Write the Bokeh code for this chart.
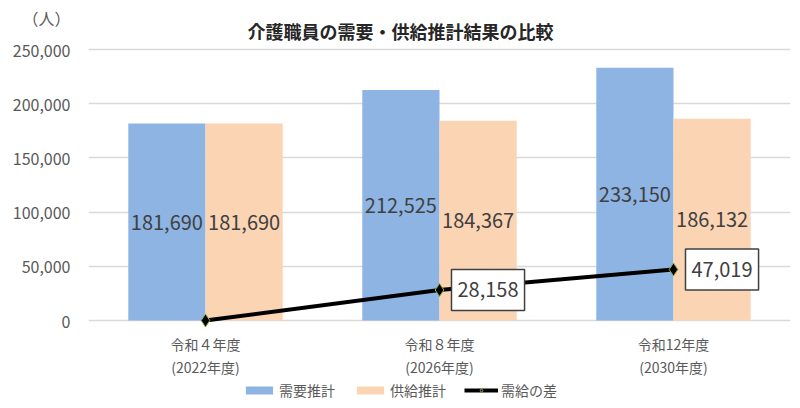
from bokeh.plotting import figure
from bokeh.models import (ColumnDataSource, FactorRange, Range1d, FixedTicker, NumeralTickFormatter,
                          Label, Legend, LegendItem)
from bokeh.core.properties import value
from bokeh.transform import dodge
from bokeh.embed import file_html
from bokeh.resources import INLINE

# ---- data ----
categories = ["令和４年度\n(2022年度)", "令和８年度\n(2026年度)", "令和12年度\n(2030年度)"]
demand = [181690, 212525, 233150]
supply = [181690, 184367, 186132]
gap = [0, 28158, 47019]
y_ticks = [0, 50000, 100000, 150000, 200000, 250000]
y_max = 250000

title_text = "介護職員の需要・供給推計結果の比較"
unit_text = "（人）"
series_names = ["需要推計", "供給推計", "需給の差"]

FONT = "Noto Sans CJK JP"
BLUE = "#8EB4E3"
PEACH = "#FBD4B4"

# layout (pixels): canvas 408 tall; value 0 sits at pixel 320, y_max at pixel 49
H = 408
ZERO_PX = 320
AREA_H = 271
px_per_unit = AREA_H / y_max


def px_to_val(px):
    return (ZERO_PX - px) / px_per_unit


y_top = px_to_val(0)
y_bottom = px_to_val(H)
unit_tick = int(round(px_to_val(18), -2))

line1 = [c.split("\n")[0] for c in categories]
line2 = [c.split("\n")[1] for c in categories]

src = ColumnDataSource(dict(
    cat=categories,
    demand=demand,
    supply=supply,
    demand_mid=[v / 2 for v in demand],
    supply_mid=[v / 2 for v in supply],
    demand_lbl=[f"{v:,}" for v in demand],
    supply_lbl=[f"{v:,}" for v in supply],
    gap=gap,
    line1=line1,
    line2=line2,
    y1=[px_to_val(343)] * len(categories),
    y2=[px_to_val(366)] * len(categories),
))

p = figure(width=800, height=H, x_range=FactorRange(*categories, range_padding=0),
           y_range=Range1d(y_bottom, y_top), output_backend="svg", toolbar_location=None,
           min_border_left=88, min_border_right=10, min_border_top=0, min_border_bottom=0)
p.outline_line_color = None
p.x_range.range_padding = 0

bw = 0.33
r1 = p.vbar(x=dodge("cat", -bw / 2, range=p.x_range), top="demand", width=bw, source=src,
            fill_color=BLUE, line_color=None)
r2 = p.vbar(x=dodge("cat", bw / 2, range=p.x_range), top="supply", width=bw, source=src,
            fill_color=PEACH, line_color=None)

p.text(x=dodge("cat", -bw / 2, range=p.x_range), y="demand_mid", text="demand_lbl", source=src,
       text_align="center", text_baseline="middle", text_font_size="20px",
       text_color="#404040", text_font=value(FONT))
p.text(x=dodge("cat", bw / 2, range=p.x_range), y="supply_mid", text="supply_lbl", source=src,
       text_align="center", text_baseline="middle", text_font_size="20px",
       text_color="#404040", text_font=value(FONT))

r3 = p.line(x="cat", y="gap", source=src, line_color="black", line_width=4)
r4 = p.scatter(x="cat", y="gap", source=src, marker="diamond", size=13,
               fill_color="black", line_color="#8DB04A", line_width=1)

for i, g in enumerate(gap):
    if g > 0:
        p.add_layout(Label(x=i + 0.5, y=g, text=f"{g:,}", x_offset=12, y_offset=0,
                           text_align="left", text_baseline="middle", text_font_size="20px",
                           text_color="#404040", text_font=FONT,
                           background_fill_color="white", border_line_color="#404040",
                           border_line_width=1.5, padding=(6, 13)))

# category labels (two lines) under the zero line
p.text(x="cat", y="y1", text="line1", source=src, text_align="center", text_baseline="middle",
       text_font_size="14px", text_color="#595959", text_font=value(FONT))
p.text(x="cat", y="y2", text="line2", source=src, text_align="center", text_baseline="middle",
       text_font_size="14px", text_color="#595959", text_font=value(FONT))
p.xaxis.visible = False

# y axis
p.yaxis.ticker = FixedTicker(ticks=y_ticks + [unit_tick])
p.yaxis.formatter = NumeralTickFormatter(format="0,0")
p.yaxis.major_label_overrides = {unit_tick: unit_text}
p.yaxis.axis_line_color = None
p.yaxis.major_tick_line_color = None
p.yaxis.minor_tick_line_color = None
p.yaxis.major_label_text_font_size = "16px"
p.yaxis.major_label_text_color = "#595959"
p.yaxis.major_label_text_font = FONT
p.yaxis.major_label_standoff = 12

p.xgrid.grid_line_color = None
p.ygrid.ticker = FixedTicker(ticks=y_ticks)
p.ygrid.grid_line_color = "#D9D9D9"
p.ygrid.grid_line_width = 1.5

# title (screen units relative to the plot frame's bottom-left corner)
p.add_layout(Label(x=312, y=H - 30, x_units="screen", y_units="screen", text=title_text,
                   text_align="center", text_baseline="middle", text_font_size="18px",
                   text_font_style="bold", text_color="#262626", text_font=FONT))

legend = Legend(items=[LegendItem(label=series_names[0], renderers=[r1]),
                       LegendItem(label=series_names[1], renderers=[r2]),
                       LegendItem(label=series_names[2], renderers=[r3, r4])],
                orientation="horizontal", location=(154, 8),
                glyph_width=34, glyph_height=10, label_standoff=3, spacing=18,
                padding=0, margin=0, border_line_color=None, background_fill_alpha=0,
                label_text_font_size="14px", label_text_color="#595959", label_text_font=FONT)
p.add_layout(legend, "center")

open("out.html", "w").write(file_html(p, INLINE))
